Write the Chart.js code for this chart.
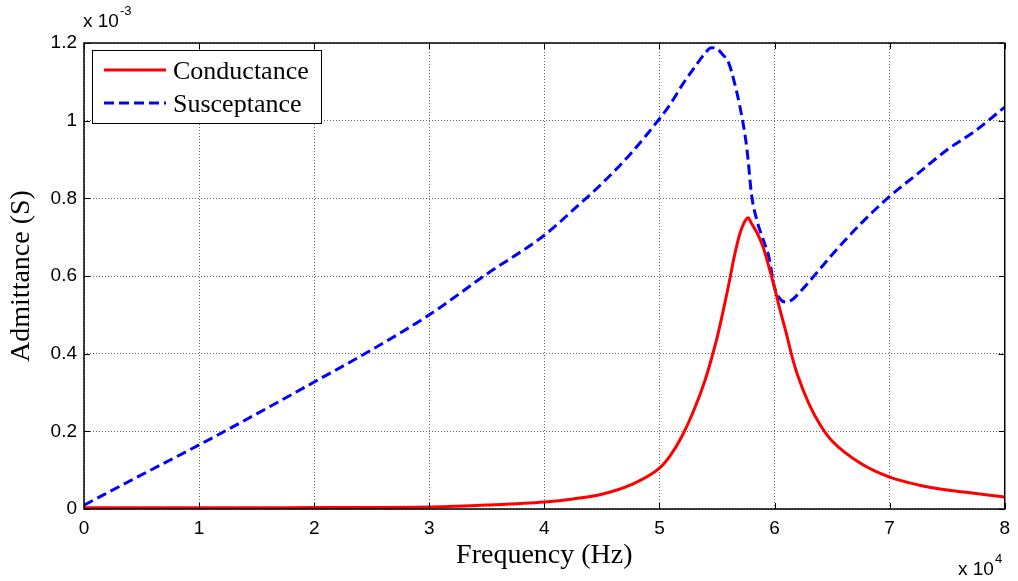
<!DOCTYPE html>
<html>
<head>
<meta charset="utf-8">
<script src="https://cdn.jsdelivr.net/npm/chart.js@4.4.1/dist/chart.umd.min.js"></script>
<style>
html,body{margin:0;padding:0;background:#fff;}
#wrap{width:1018px;height:581px;position:relative;}
</style>
</head>
<body>
<div id="wrap"><canvas id="c" width="1018" height="581"></canvas></div>
<script>
// Frequency in units of 10^4 Hz
const frequency = [0, 0.5, 1, 1.5, 2, 2.5, 3, 3.5, 4, 4.25, 4.5, 4.75, 5, 5.1, 5.2, 5.3, 5.4, 5.45, 5.5, 5.55, 5.6, 5.65, 5.7, 5.75, 5.77, 5.8, 5.85, 5.9, 5.95, 6.0, 6.05, 6.1, 6.15, 6.2, 6.3, 6.4, 6.5, 6.75, 7, 7.25, 7.5, 7.75, 8];
// Admittance in units of 10^-3 S
const conductance = [0.003, 0.003, 0.003, 0.003, 0.004, 0.004, 0.005, 0.01, 0.018, 0.026, 0.038, 0.062, 0.105, 0.14, 0.19, 0.255, 0.335, 0.385, 0.44, 0.505, 0.575, 0.65, 0.71, 0.745, 0.75, 0.735, 0.71, 0.675, 0.625, 0.57, 0.51, 0.455, 0.395, 0.345, 0.27, 0.215, 0.175, 0.117, 0.082, 0.062, 0.049, 0.04, 0.031];
const susceptance = [0.01, 0.088, 0.165, 0.245, 0.327, 0.41, 0.5, 0.605, 0.705, 0.77, 0.838, 0.915, 1.005, 1.045, 1.093, 1.135, 1.175, 1.188, 1.185, 1.17, 1.15, 1.1, 1.035, 0.95, 0.9, 0.81, 0.74, 0.695, 0.65, 0.57, 0.54, 0.533, 0.538, 0.552, 0.585, 0.62, 0.655, 0.735, 0.805, 0.865, 0.925, 0.975, 1.035];
const xTicks = [0, 1, 2, 3, 4, 5, 6, 7, 8];
const yTicks = [0, 0.2, 0.4, 0.6, 0.8, 1, 1.2];
const seriesNames = ['Conductance', 'Susceptance'];
const xTitle = 'Frequency (Hz)';
const yTitle = 'Admittance (S)';

const SANS = '"Liberation Sans", Arial, sans-serif';
const TICK_FONT = '19px ' + SANS;
const SERIF = '"Liberation Serif", "Times New Roman", serif';

const decorPlugin = {
  id: 'decor',
  afterDraw(chart) {
    const ctx = chart.ctx;
    const a = chart.chartArea;
    const xs = chart.scales.x, ys = chart.scales.y;
    ctx.save();
    // box
    ctx.strokeStyle = '#000';
    ctx.lineWidth = 1.5;
    ctx.strokeRect(a.left, a.top, a.right - a.left, a.bottom - a.top);
    // inward ticks
    ctx.lineWidth = 1;
    ctx.beginPath();
    xTicks.forEach(v => {
      const px = Math.round(xs.getPixelForValue(v)) + 0.5;
      ctx.moveTo(px, a.bottom); ctx.lineTo(px, a.bottom - 6);
      ctx.moveTo(px, a.top); ctx.lineTo(px, a.top + 6);
    });
    yTicks.forEach(v => {
      const py = Math.round(ys.getPixelForValue(v)) + 0.5;
      ctx.moveTo(a.left, py); ctx.lineTo(a.left + 6, py);
      ctx.moveTo(a.right, py); ctx.lineTo(a.right - 6, py);
    });
    ctx.stroke();
    // exponent labels
    ctx.fillStyle = '#000';
    ctx.font = TICK_FONT;
    ctx.textBaseline = 'alphabetic';
    ctx.textAlign = 'left';
    ctx.fillText('x 10', 83, 27);
    let w = ctx.measureText('x 10').width;
    ctx.font = '13px ' + SANS;
    ctx.fillText('-3', 83 + w + 1, 15);
    ctx.font = TICK_FONT;
    ctx.fillText('x 10', 958, 575);
    w = ctx.measureText('x 10').width;
    ctx.font = '13px ' + SANS;
    ctx.fillText('4', 958 + w + 1, 563);
    // axis titles
    ctx.font = '28px ' + SERIF;
    ctx.textAlign = 'center';
    ctx.textBaseline = 'middle';
    ctx.fillText(xTitle, (a.left + a.right) / 2, 556);
    ctx.save();
    ctx.translate(22, (a.top + a.bottom) / 2);
    ctx.rotate(-Math.PI / 2);
    ctx.fillText(yTitle, 0, 0);
    ctx.restore();
    // legend
    const lx = 92, ly = 50, lw = 229, lh = 73;
    ctx.fillStyle = '#fff';
    ctx.fillRect(lx, ly, lw, lh);
    ctx.strokeStyle = '#000';
    ctx.lineWidth = 1;
    ctx.strokeRect(lx + 0.5, ly + 0.5, lw, lh);
    const rows = [70, 103];
    chart.data.datasets.forEach((ds, i) => {
      ctx.strokeStyle = ds.borderColor;
      ctx.lineWidth = 3;
      ctx.setLineDash(ds.borderDash || []);
      ctx.beginPath();
      ctx.moveTo(104, rows[i]);
      ctx.lineTo(166, rows[i]);
      ctx.stroke();
      ctx.setLineDash([]);
      ctx.fillStyle = '#000';
      ctx.font = '26px ' + SERIF;
      ctx.textAlign = 'left';
      ctx.textBaseline = 'middle';
      ctx.fillText(ds.label, 173, rows[i] + 2);
    });
    ctx.restore();
  }
};

new Chart(document.getElementById('c'), {
  type: 'line',
  data: {
    datasets: [
      {
        label: seriesNames[0],
        data: frequency.map((f, i) => ({x: f, y: conductance[i]})),
        borderColor: '#ff0000',
        borderWidth: 3,
        pointRadius: 0,
        cubicInterpolationMode: 'monotone',
        fill: false
      },
      {
        label: seriesNames[1],
        data: frequency.map((f, i) => ({x: f, y: susceptance[i]})),
        borderColor: '#0000ff',
        borderWidth: 3,
        borderDash: [10, 5],
        pointRadius: 0,
        cubicInterpolationMode: 'monotone',
        fill: false
      }
    ]
  },
  options: {
    responsive: false,
    animation: false,
    devicePixelRatio: 1,
    layout: {padding: {top: 43, right: 13, left: 0, bottom: 0}},
    plugins: {legend: {display: false}, tooltip: {enabled: false}},
    scales: {
      x: {
        type: 'linear',
        min: 0, max: 8,
        afterBuildTicks: s => { s.ticks = xTicks.map(v => ({value: v})); },
        afterFit: s => { s.height = 72; },
        grid: {color: '#666', lineWidth: 1, drawTicks: false},
        border: {display: false, dash: [1, 2]},
        ticks: {font: {family: SANS, size: 19}, color: '#000', padding: 8, maxRotation: 0}
      },
      y: {
        type: 'linear',
        min: 0, max: 1.2,
        afterBuildTicks: s => { s.ticks = yTicks.map(v => ({value: v})); },
        afterFit: s => { s.width = 84; },
        grid: {color: '#666', lineWidth: 1, drawTicks: false},
        border: {display: false, dash: [1, 2]},
        ticks: {font: {family: SANS, size: 19}, color: '#000', padding: 7,
          callback: v => String(v)}
      }
    }
  },
  plugins: [decorPlugin]
});
</script>
</body>
</html>
